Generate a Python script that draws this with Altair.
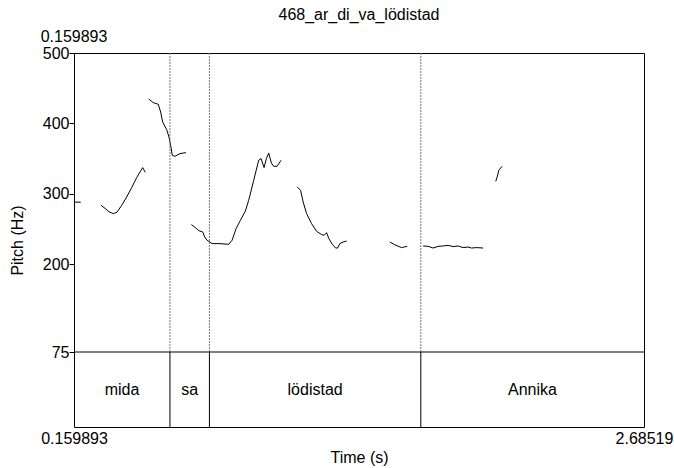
import altair as alt
import pandas as pd

T0, T1 = 0.159893, 2.68519
Y_BOTTOM, Y_TOP = -31.6, 500
FONT = "Liberation Sans"
FS = 16

# pitch contour segments: (times in s, pitch in Hz)
seg0_t = [0.160, 0.190]
seg0_hz = [288.0, 288.0]

seg1_t = [0.2795, 0.2972, 0.3149, 0.3339, 0.3503, 0.3711, 0.3933, 0.4154, 0.4375, 0.4641, 0.4756]
seg1_hz = [283.5, 279.2, 274.3, 271.7, 273.6, 283.5, 295.3, 308.7, 322.9, 337.1, 330.4]

seg2_t = [0.4907, 0.5110, 0.5332, 0.5438, 0.5527, 0.5704, 0.5806, 0.5894, 0.5952, 0.6071, 0.6293, 0.6558]
seg2_hz = [434.6, 429.5, 427.1, 416.1, 401.9, 391.1, 380.6, 366.4, 354.6, 353.2, 357.0, 358.4]

seg3_t = [0.6801, 0.6978, 0.7124, 0.7302, 0.7390, 0.7496, 0.7718, 0.8010, 0.8453, 0.8603, 0.8780, 0.8971,
          0.9192, 0.9338, 0.9560, 0.9781, 0.9888, 1.0020, 1.0122, 1.0224, 1.0343, 1.0445, 1.0596, 1.0773]
seg3_hz = [256.1, 251.8, 247.5, 245.6, 238.4, 233.8, 229.1, 229.1, 228.1, 233.8, 250.4, 262.2,
           275.4, 290.6, 319.0, 347.5, 349.9, 337.1, 349.9, 357.9, 343.6, 338.9, 338.9, 347.5]

seg4_t = [1.1487, 1.1637, 1.1752, 1.1903, 1.2124, 1.2346, 1.2567, 1.2682, 1.2789, 1.2890, 1.3054, 1.3187,
          1.3276, 1.3377, 1.3525, 1.3675]
seg4_hz = [309.8, 304.8, 288.2, 271.7, 257.5, 246.5, 241.9, 240.9, 244.7, 236.2, 227.6, 222.8,
           222.8, 229.1, 231.3, 232.8]

seg5_t = [1.5591, 1.5813, 1.6110, 1.6212, 1.6358]
seg5_hz = [231.3, 227.4, 223.4, 224.1, 225.2]

seg6_t = [1.7066, 1.7288, 1.7509, 1.7730, 1.7952, 1.8173, 1.8394, 1.8616, 1.8837, 1.9059, 1.9209, 1.9431, 1.9723]
seg6_hz = [225.7, 225.2, 222.8, 225.2, 225.7, 226.6, 224.8, 225.7, 223.4, 224.2, 222.8, 223.4, 222.8]

seg7_t = [2.0285, 2.0360, 2.0418, 2.0564]
seg7_hz = [317.6, 325.2, 333.3, 338.9]

segments = [(seg0_t, seg0_hz), (seg1_t, seg1_hz), (seg2_t, seg2_hz), (seg3_t, seg3_hz),
            (seg4_t, seg4_hz), (seg5_t, seg5_hz), (seg6_t, seg6_hz), (seg7_t, seg7_hz)]

# text tier
boundaries = [0.5850, 0.7599, 1.6964]
words = ["mida", "sa", "lödistad", "Annika"]
edges = [T0] + boundaries + [T1]

rows = []
for i, (ts, hs) in enumerate(segments):
    for t, h in zip(ts, hs):
        rows.append({"seg": i, "t": t, "hz": h})
pitch_df = pd.DataFrame(rows)
bnd_df = pd.DataFrame({"t": boundaries})
word_df = pd.DataFrame({
    "word": words,
    "mid": [(edges[i] + edges[i + 1]) / 2 for i in range(len(words))],
})

xs = alt.Scale(domain=[T0, T1], nice=False, zero=False)
ys = alt.Scale(domain=[Y_BOTTOM, Y_TOP], nice=False, zero=False)

x_axis = alt.Axis(values=[T0, T1], labelExpr="datum.value < 1 ? '0.159893' : '2.68519'",
                  ticks=False, domain=False, grid=False, labelFlush=False, labelOverlap=False,
                  labelPadding=3, title="Time (s)", titlePadding=3)
y_axis = alt.Axis(values=[75, 200, 300, 400, 500], format="d", tickSize=5, tickColor="black",
                  domain=False, grid=False, labelFlush=False, labelOverlap=False, labelPadding=0,
                  title="Pitch (Hz)", titlePadding=17)

lines = alt.Chart(pitch_df).mark_line(color="black", strokeWidth=1).encode(
    x=alt.X("t:Q", scale=xs, axis=x_axis),
    y=alt.Y("hz:Q", scale=ys, axis=y_axis),
    detail="seg:N",
)

dotted = alt.Chart(bnd_df).mark_rule(color="#777777", strokeWidth=1, strokeDash=[2, 1]).encode(
    x=alt.X("t:Q", scale=xs),
    y=alt.datum(75, scale=ys),
    y2=alt.datum(500),
)

solid = alt.Chart(bnd_df).mark_rule(color="black", strokeWidth=1).encode(
    x=alt.X("t:Q", scale=xs),
    y=alt.datum(Y_BOTTOM, scale=ys),
    y2=alt.datum(75),
)

hline = alt.Chart(pd.DataFrame({"y": [75]})).mark_rule(color="black", strokeWidth=1).encode(
    y=alt.Y("y:Q", scale=ys),
)

labels = alt.Chart(word_df).mark_text(font=FONT, fontSize=FS, color="black", baseline="middle").encode(
    x=alt.X("mid:Q", scale=xs),
    y=alt.datum(21, scale=ys),
    text="word:N",
)

top_label = alt.Chart(pd.DataFrame({"txt": ["0.159893"]})).mark_text(
    font=FONT, fontSize=FS, color="black", baseline="middle", align="center"
).encode(
    x=alt.value(0),
    y=alt.value(-16),
    text="txt:N",
)

chart = alt.layer(lines, dotted, solid, hline, labels, top_label).properties(
    width=570,
    height=374,
    background="white",
    title=alt.TitleParams("468_ar_di_va_lödistad", font=FONT, fontSize=FS, fontWeight="normal",
                          color="black", offset=6),
    autosize=alt.AutoSizeParams(type="none"),
    padding={"left": 74, "top": 53, "right": 30, "bottom": 41},
).configure_view(
    stroke="black", strokeWidth=1
).configure_axis(
    labelFont=FONT, titleFont=FONT, labelFontSize=FS, titleFontSize=FS,
    labelColor="black", titleColor="black", titleFontWeight="normal",
)

chart.save("out.html", embed_options={"renderer": "svg", "actions": False})
